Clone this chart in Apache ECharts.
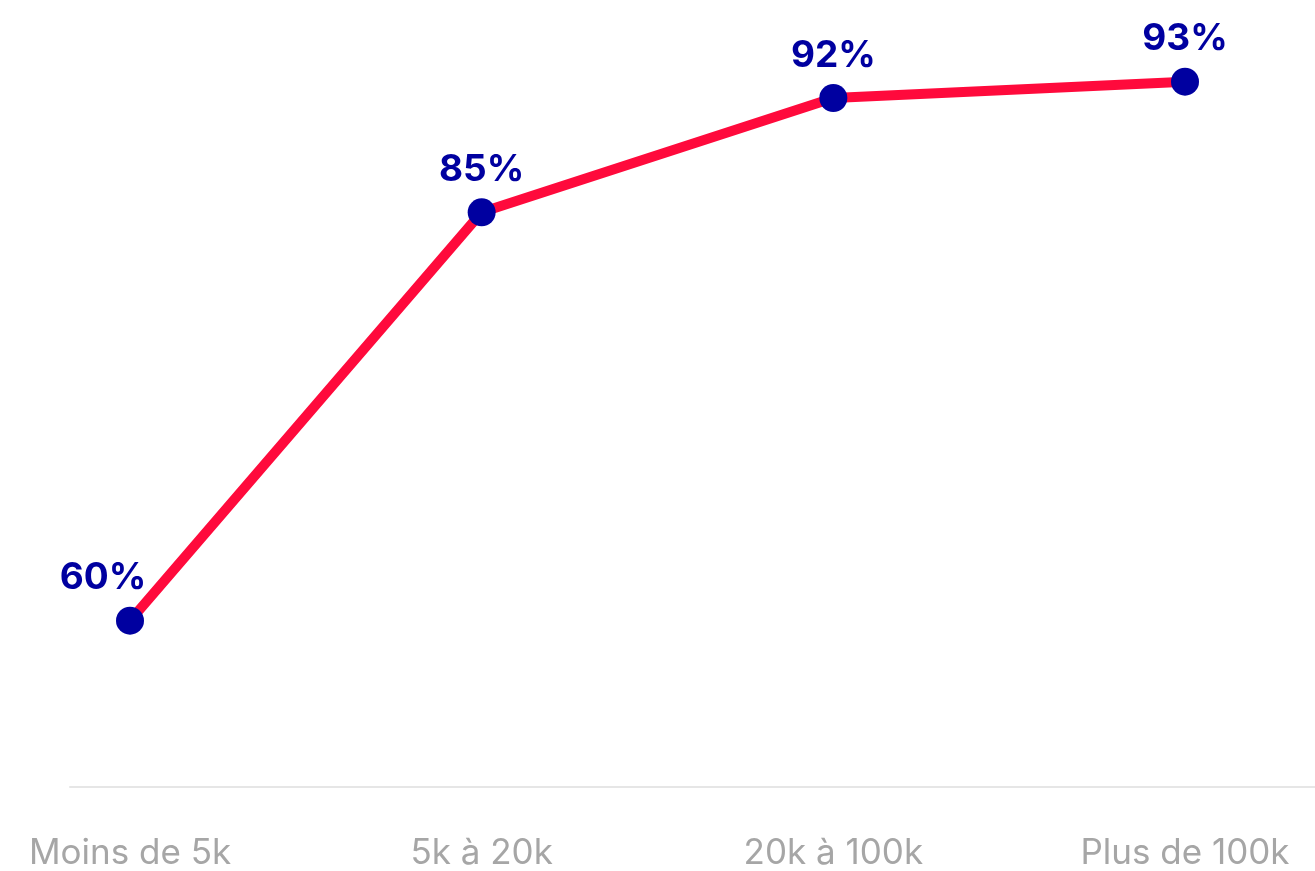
<!DOCTYPE html>
<html style="height: 100%">
<head>
<meta charset="utf-8">
<script src="https://cdn.jsdelivr.net/npm/echarts@6/dist/echarts.min.js"></script>
</head>
<body style="height: 100%; margin: 0; background: #fff">
<div id="container" style="width: 1315px; height: 871px"></div>
<script type="text/javascript">
var categories = ['Moins de 5k', '5k à 20k', '20k à 100k', 'Plus de 100k'];
var values = [60, 85, 92, 93];

var chart = echarts.init(document.getElementById('container'));

var option = {
    animation: false,
    textStyle: { fontFamily: 'Inter' },
    grid: [
        { left: 130, right: 130, top: 0, bottom: 84 },
        { left: 70, right: 0, top: 0, bottom: 84 }
    ],
    xAxis: [{
        type: 'category',
        gridIndex: 0,
        data: categories,
        boundaryGap: false,
        axisLine: { show: false },
        axisTick: { show: false },
        axisLabel: {
            color: '#a6a6a6',
            fontSize: 35,
            fontFamily: 'Inter',
            margin: 52
        }
    }, {
        type: 'category',
        gridIndex: 1,
        data: categories,
        axisLine: { show: true, lineStyle: { color: '#e6e6e6', width: 2 } },
        axisTick: { show: false },
        axisLabel: { show: false }
    }],
    yAxis: [{
        type: 'value',
        gridIndex: 0,
        min: 50,
        max: 98,
        show: false
    }, {
        type: 'value',
        gridIndex: 1,
        min: 50,
        max: 98,
        show: false
    }],
    series: [{
        type: 'line',
        xAxisIndex: 0,
        yAxisIndex: 0,
        data: values.map(function (v, i) {
            var item = { value: v };
            if (i === 0) {
                item.label = { offset: [-27, 0] };
            }
            return item;
        }),
        symbol: 'circle',
        symbolSize: 28,
        lineStyle: { color: '#ff0a3c', width: 10 },
        itemStyle: { color: '#0000a0' },
        label: {
            show: true,
            position: 'top',
            distance: 10,
            formatter: '{c}%',
            color: '#0000a0',
            fontSize: 37,
            fontWeight: 'bold',
            fontFamily: 'Inter'
        },
        z: 3
    }]
};

chart.setOption(option);
</script>
</body>
</html>
